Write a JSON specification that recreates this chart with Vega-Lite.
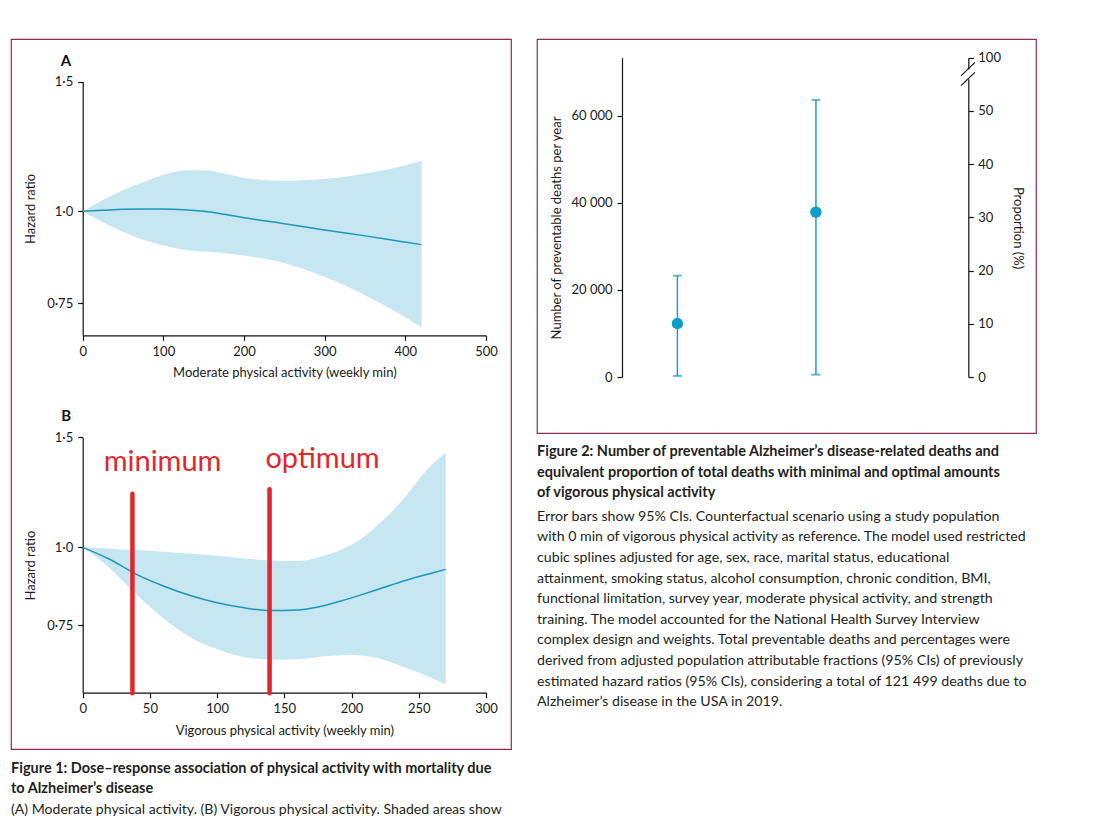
{
  "$schema": "https://vega.github.io/schema/vega-lite/v6.json",
  "background": "white",
  "padding": {"left": 10, "top": 38, "right": 10, "bottom": 10},
  "bounds": "flush",
  "spacing": 26,
  "config": {
    "view": {"stroke": "#8e2b50", "strokeWidth": 1.2},
    "font": "Lato",
    "axis": {
      "grid": false, "domainColor": "#111111", "tickColor": "#111111", "domainWidth": 1.2, "tickWidth": 1.2, "tickSize": 5,
      "labelFont": "Lato", "labelFontSize": 13, "labelColor": "#1a1a1a",
      "titleFont": "Lato", "titleFontSize": 13, "titleFontWeight": "normal", "titleColor": "#1a1a1a",
      "labelFlush": false, "labelOverlap": false
    }
  },
  "datasets": {
    "modA": [
      {"x": 0, "lo": 1.0, "hi": 1.0, "hr": 1.0},
      {"x": 25, "lo": 0.966, "hi": 1.036, "hr": 1.003},
      {"x": 50, "lo": 0.938, "hi": 1.068, "hr": 1.006},
      {"x": 75, "lo": 0.915, "hi": 1.095, "hr": 1.007},
      {"x": 100, "lo": 0.899, "hi": 1.121, "hr": 1.007},
      {"x": 125, "lo": 0.887, "hi": 1.136, "hr": 1.005},
      {"x": 150, "lo": 0.882, "hi": 1.137, "hr": 1.0},
      {"x": 175, "lo": 0.878, "hi": 1.125, "hr": 0.991},
      {"x": 200, "lo": 0.871, "hi": 1.110, "hr": 0.980},
      {"x": 250, "lo": 0.851, "hi": 1.100, "hr": 0.962},
      {"x": 300, "lo": 0.815, "hi": 1.106, "hr": 0.943},
      {"x": 350, "lo": 0.769, "hi": 1.125, "hr": 0.926},
      {"x": 400, "lo": 0.718, "hi": 1.155, "hr": 0.908},
      {"x": 420, "lo": 0.696, "hi": 1.171, "hr": 0.901}
    ],
    "vigB": [
      {"x": 0, "lo": 1.0, "hi": 1.0, "hr": 1.0},
      {"x": 20, "lo": 0.927, "hi": 0.995, "hr": 0.957},
      {"x": 40, "lo": 0.840, "hi": 0.990, "hr": 0.905},
      {"x": 60, "lo": 0.770, "hi": 0.984, "hr": 0.867},
      {"x": 80, "lo": 0.718, "hi": 0.977, "hr": 0.837},
      {"x": 100, "lo": 0.687, "hi": 0.969, "hr": 0.815},
      {"x": 120, "lo": 0.667, "hi": 0.960, "hr": 0.800},
      {"x": 140, "lo": 0.661, "hi": 0.953, "hr": 0.792},
      {"x": 160, "lo": 0.662, "hi": 0.951, "hr": 0.794},
      {"x": 170, "lo": 0.665, "hi": 0.957, "hr": 0.799},
      {"x": 180, "lo": 0.669, "hi": 0.970, "hr": 0.807},
      {"x": 190, "lo": 0.671, "hi": 0.987, "hr": 0.818},
      {"x": 200, "lo": 0.673, "hi": 1.010, "hr": 0.830},
      {"x": 210, "lo": 0.670, "hi": 1.043, "hr": 0.843},
      {"x": 220, "lo": 0.664, "hi": 1.088, "hr": 0.857},
      {"x": 230, "lo": 0.654, "hi": 1.140, "hr": 0.871},
      {"x": 240, "lo": 0.642, "hi": 1.205, "hr": 0.885},
      {"x": 250, "lo": 0.630, "hi": 1.283, "hr": 0.898},
      {"x": 260, "lo": 0.617, "hi": 1.358, "hr": 0.910},
      {"x": 270, "lo": 0.603, "hi": 1.418, "hr": 0.922}
    ],
    "refline": [{"hr": 1}],
    "panels": [
      {"panel": "A", "x": -20.7, "y": 1.6},
      {"panel": "B", "x": -12.2, "y": 1.623}
    ],
    "annot": [
      {"x": 37, "bottom": 0.584, "top": 1.219, "lx": 59.4, "ly": 1.325, "label": "minimum"},
      {"x": 139, "bottom": 0.584, "top": 1.239, "lx": 178.4, "ly": 1.342, "label": "optimum"}
    ],
    "deaths": [
      {"vpa": 40, "deaths": 12300, "lo": 250, "hi": 23300},
      {"vpa": 140, "deaths": 37900, "lo": 550, "hi": 63700}
    ],
    "brk": [
      {"x": 244.7, "x2": 254.8, "y": 56.57, "y2": 59.12},
      {"x": 244.7, "x2": 254.8, "y": 54.75, "y2": 57.25}
    ],
    "gap": [{"x": 250, "y": 55.95, "y2": 57.8}]
  },
  "hconcat": [
    {
      "width": 500,
      "height": 710,
      "title": {
        "text": ["Figure 1: Dose–response association of physical activity with mortality due", "to Alzheimer’s disease"],
        "subtitle": ["(A) Moderate physical activity. (B) Vigorous physical activity. Shaded areas show"],
        "orient": "bottom", "anchor": "start", "frame": "group", "offset": 13,
        "font": "Lato", "fontSize": 14.5, "fontWeight": "bold", "color": "#231f20", "lineHeight": 20,
        "subtitleFont": "Lato", "subtitleFontSize": 14.1, "subtitleColor": "#231f20", "subtitleLineHeight": 20, "subtitlePadding": 6.5
      },
      "layer": [
        {
          "data": {"name": "modA"},
          "encoding": {
            "x": {
              "field": "x", "type": "quantitative",
              "scale": {"domain": [0, 500], "range": [71.7, 475], "nice": false, "zero": false},
              "axis": {"orient": "bottom", "offset": -413.7, "values": [0, 100, 200, 300, 400, 500], "title": "Moderate physical activity (weekly min)", "labelPadding": 5, "titlePadding": 8.5}
            }
          },
          "layer": [
            {
              "mark": {"type": "area", "color": "#c6e6f2", "interpolate": "monotone"},
              "encoding": {
                "y": {
                  "field": "lo", "type": "quantitative",
                  "scale": {"type": "log", "domain": [0.6786, 1.5], "range": [296.3, 42.6], "nice": false, "zero": false},
                  "axis": {"orient": "left", "offset": -71.7, "values": [0.75, 1, 1.5], "labelExpr": "datum.value == 1 ? '1·0' : datum.value == 1.5 ? '1·5' : '0·75'", "title": "Hazard ratio", "titleX": -52, "titleBaseline": "middle", "labelPadding": 5}
                },
                "y2": {"field": "hi"}
              }
            },
            {
              "data": {"name": "refline"},
              "mark": {"type": "rule", "color": "#4f5b66", "strokeDash": [4, 3], "strokeWidth": 1},
              "encoding": {"x": {"datum": 0}, "x2": {"datum": 500}, "y": {"field": "hr", "type": "quantitative"}}
            },
            {
              "mark": {"type": "line", "color": "#2096b8", "strokeWidth": 1.5, "interpolate": "monotone"},
              "encoding": {"y": {"field": "hr", "type": "quantitative"}}
            },
            {
              "data": {"name": "panels"},
              "transform": [{"filter": "datum.panel == 'A'"}],
              "mark": {"type": "text", "font": "Lato", "fontSize": 15, "fontWeight": "bold", "color": "#111111", "align": "center", "baseline": "middle"},
              "encoding": {"x": {"field": "x", "type": "quantitative"}, "y": {"field": "y", "type": "quantitative"}, "text": {"field": "panel"}}
            }
          ]
        },
        {
          "data": {"name": "vigB"},
          "encoding": {
            "x": {
              "field": "x", "type": "quantitative",
              "scale": {"domain": [0, 300], "range": [71.7, 475], "nice": false, "zero": false},
              "axis": {"orient": "bottom", "offset": -56.3, "values": [0, 50, 100, 150, 200, 250, 300], "title": "Vigorous physical activity (weekly min)", "labelPadding": 5, "titlePadding": 8.5}
            }
          },
          "layer": [
            {
              "mark": {"type": "area", "color": "#c6e6f2", "interpolate": "monotone"},
              "encoding": {
                "y": {
                  "field": "lo", "type": "quantitative",
                  "scale": {"type": "log", "domain": [0.585, 1.5], "range": [653.7, 398.4], "nice": false, "zero": false},
                  "axis": {"orient": "left", "offset": -71.7, "values": [0.75, 1, 1.5], "labelExpr": "datum.value == 1 ? '1·0' : datum.value == 1.5 ? '1·5' : '0·75'", "title": "Hazard ratio", "titleX": -52, "titleBaseline": "middle", "labelPadding": 5}
                },
                "y2": {"field": "hi"}
              }
            },
            {
              "data": {"name": "refline"},
              "mark": {"type": "rule", "color": "#4f5b66", "strokeDash": [4, 3], "strokeWidth": 1},
              "encoding": {"x": {"datum": 0}, "x2": {"datum": 300}, "y": {"field": "hr", "type": "quantitative"}}
            },
            {
              "mark": {"type": "line", "color": "#2096b8", "strokeWidth": 1.5, "interpolate": "monotone"},
              "encoding": {"y": {"field": "hr", "type": "quantitative"}}
            },
            {
              "data": {"name": "annot"},
              "mark": {"type": "rule", "color": "#e4252b", "strokeWidth": 4.5, "strokeCap": "round"},
              "encoding": {"x": {"field": "x", "type": "quantitative"}, "y": {"field": "bottom", "type": "quantitative"}, "y2": {"field": "top"}}
            },
            {
              "data": {"name": "annot"},
              "mark": {"type": "text", "font": "Lato", "fontSize": 29, "color": "#e4252b", "align": "center", "baseline": "alphabetic"},
              "encoding": {"x": {"field": "lx", "type": "quantitative"}, "y": {"field": "ly", "type": "quantitative"}, "text": {"field": "label"}}
            },
            {
              "data": {"name": "panels"},
              "transform": [{"filter": "datum.panel == 'B'"}],
              "mark": {"type": "text", "font": "Lato", "fontSize": 15, "fontWeight": "bold", "color": "#111111", "align": "center", "baseline": "middle"},
              "encoding": {"x": {"field": "x", "type": "quantitative"}, "y": {"field": "y", "type": "quantitative"}, "text": {"field": "panel"}}
            }
          ]
        }
      ],
      "resolve": {"scale": {"x": "independent", "y": "independent"}, "axis": {"x": "independent", "y": "independent"}}
    },
    {
      "width": 499,
      "height": 394,
      "title": {
        "text": ["Figure 2: Number of preventable Alzheimer’s disease-related deaths and", "equivalent proportion of total deaths with minimal and optimal amounts", "of vigorous physical activity"],
        "subtitle": [
          "Error bars show 95% CIs. Counterfactual scenario using a study population",
          "with 0 min of vigorous physical activity as reference. The model used restricted",
          "cubic splines adjusted for age, sex, race, marital status, educational",
          "attainment, smoking status, alcohol consumption, chronic condition, BMI,",
          "functional limitation, survey year, moderate physical activity, and strength",
          "training. The model accounted for the National Health Survey Interview",
          "complex design and weights. Total preventable deaths and percentages were",
          "derived from adjusted population attributable fractions (95% CIs) of previously",
          "estimated hazard ratios (95% CIs), considering a total of 121 499 deaths due to",
          "Alzheimer’s disease in the USA in 2019."
        ],
        "orient": "bottom", "anchor": "start", "frame": "group", "offset": 12,
        "font": "Lato", "fontSize": 14.5, "fontWeight": "bold", "color": "#231f20", "lineHeight": 20.7,
        "subtitleFont": "Lato", "subtitleFontSize": 14.2, "subtitleColor": "#231f20", "subtitleLineHeight": 20.6, "subtitlePadding": 9
      },
      "layer": [
        {
          "data": {"name": "deaths"},
          "encoding": {
            "x": {
              "field": "vpa", "type": "quantitative",
              "scale": {"domain": [0, 250], "range": [85, 431.3], "nice": false, "zero": false},
              "axis": {"orient": "bottom", "offset": -56, "values": [0, 40, 140, 250], "title": "Vigorous physical activity (weekly min)", "labelPadding": 5, "titlePadding": 9}
            }
          },
          "layer": [
            {
              "mark": {"type": "rule", "color": "#1ba0c2", "strokeWidth": 1.5},
              "encoding": {
                "y": {
                  "field": "lo", "type": "quantitative",
                  "scale": {"domain": [0, 73400], "range": [338, 18.7], "nice": false, "zero": false},
                  "axis": {"orient": "left", "offset": -85, "values": [0, 20000, 40000, 60000], "labelExpr": "datum.value == 0 ? '0' : replace(format(datum.value, ','), ',', ' ')", "title": "Number of preventable deaths per year", "titleX": -66, "titleY": 188.5, "titleAngle": -90, "titleBaseline": "middle", "titleAlign": "center", "labelPadding": 5}
                },
                "y2": {"field": "hi"}
              }
            },
            {
              "mark": {"type": "tick", "orient": "horizontal", "color": "#1ba0c2", "size": 9, "thickness": 2},
              "encoding": {"y": {"field": "lo", "type": "quantitative"}}
            },
            {
              "mark": {"type": "tick", "orient": "horizontal", "color": "#1ba0c2", "size": 9, "thickness": 2},
              "encoding": {"y": {"field": "hi", "type": "quantitative"}}
            },
            {
              "mark": {"type": "point", "filled": true, "size": 130, "color": "#0e9fc8", "opacity": 1},
              "encoding": {"y": {"field": "deaths", "type": "quantitative"}}
            }
          ]
        },
        {
          "layer": [
            {
              "data": {"name": "gap"},
              "mark": {"type": "rule", "color": "white", "strokeWidth": 4},
              "encoding": {
                "x": {"field": "x", "type": "quantitative", "scale": {"domain": [0, 250], "range": [85, 431.3], "nice": false, "zero": false}, "axis": null},
                "y": {
                  "field": "y", "type": "quantitative",
                  "scale": {"domain": [0, 60], "range": [338, 18.7], "nice": false, "zero": false},
                  "axis": {"orient": "right", "offset": -67.7, "values": [0, 10, 20, 30, 40, 50, 60], "labelExpr": "datum.value == 60 ? '100' : datum.label", "title": "Proportion (%)", "titleX": 49.4, "titleY": 188.5, "titleAngle": 90, "titleBaseline": "middle", "titleAlign": "center", "labelPadding": 4.5}
                },
                "y2": {"field": "y2"}
              }
            },
            {
              "data": {"name": "brk"},
              "mark": {"type": "rule", "color": "#111111", "strokeWidth": 1.1},
              "encoding": {
                "x": {"field": "x", "type": "quantitative", "axis": null},
                "x2": {"field": "x2"},
                "y": {"field": "y", "type": "quantitative"},
                "y2": {"field": "y2"}
              }
            }
          ]
        }
      ],
      "resolve": {"scale": {"y": "independent"}, "axis": {"y": "independent"}}
    }
  ]
}
